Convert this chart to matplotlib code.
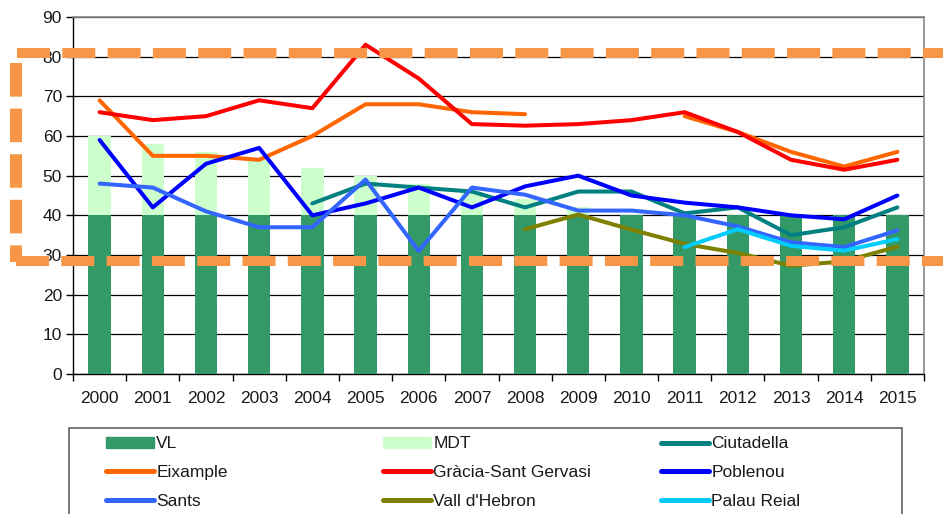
import numpy as np
import matplotlib
matplotlib.use("Agg")
import matplotlib.pyplot as plt
from matplotlib.lines import Line2D
from matplotlib.patches import Patch, Rectangle

plt.rcParams['font.family'] = ['Liberation Sans', 'DejaVu Sans']

years = [str(y) for y in range(2000, 2016)]
nan = np.nan
VL = [40] * 16
MDT = [60, 58, 56, 54, 52, 50, 48, 46, 44, 42, 40, 40, 40, 40, 40, 40]
ciutadella = [nan, nan, nan, nan, 43, 48, 47, 46, 42, 46, 46, 40.5, 42, 35, 37, 42]
eixample = [69, 55, 55, 54, 60, 68, 68, 66, 65.5, nan, nan, 65, 61, 56, 52.3, 56]
gracia = [66, 64, 65, 69, 67, 83, 74.5, 63, 62.6, 63, 64, 66, 61, 54, 51.5, 54]
poblenou = [59, 42, 53, 57, 40, 43, 47, 42, 47.3, 50, 45, 43.2, 42, 40, 39, 45]
sants = [48, 47, 41, 37, 37, 49, 31, 47, 45.2, 41.2, 41.2, 40, 37.2, 33.2, 32, 36.2]
vall = [nan, nan, nan, nan, nan, nan, nan, nan, 36.5, 40.2, 36.4, 32.8, 30.5, 27.3, 28.4, 32.1]
palau = [nan, nan, nan, nan, nan, nan, nan, nan, nan, nan, nan, 32, 36.5, 32.3, 31.1, 34]

W, H = 943, 514
fig = plt.figure(figsize=(W / 100, H / 100), dpi=100)
ax = fig.add_axes([73 / W, 1 - 374 / H, (924 - 73) / W, (374 - 17) / H])

x = np.arange(len(years))
bw = 0.42
ax.bar(x, MDT, width=bw, color='#CCFFCC', zorder=2)
ax.bar(x, VL, width=bw, color='#339966', zorder=3)

series = [
    ('Ciutadella', ciutadella, '#008080'),
    ('Eixample', eixample, '#FF6600'),
    ('Gràcia-Sant Gervasi', gracia, '#FF0000'),
    ('Poblenou', poblenou, '#0000FF'),
    ('Sants', sants, '#3366FF'),
    ("Vall d'Hebron", vall, '#808000'),
    ('Palau Reial', palau, '#00CCFF'),
]
for name, vals, c in series:
    ax.plot(x, vals, color=c, lw=2.9, zorder=4, solid_capstyle='round', solid_joinstyle='round')

ax.set_xlim(-0.5, len(years) - 0.5)
ax.set_ylim(0, 90)
ax.set_yticks(range(0, 91, 10))
ax.set_xticks(x)
ax.set_xticklabels(years)
ax.set_xticks(np.arange(-0.5, len(years), 1), minor=True)
ax.tick_params(axis='x', which='major', length=0, pad=12, labelsize=12.5, labelcolor='#1a1a1a')
ax.tick_params(axis='x', which='minor', length=5, direction='out', width=1)
ax.tick_params(axis='y', length=5, direction='out', width=1, labelsize=12.5, pad=3, labelcolor='#1a1a1a')
ax.yaxis.grid(True, color='black', lw=0.9, zorder=0)
ax.set_axisbelow(True)
for s in ['top', 'right']:
    ax.spines[s].set_color('#888888')
    ax.spines[s].set_linewidth(1.2)
for s in ['left', 'bottom']:
    ax.spines[s].set_color('black')
    ax.spines[s].set_linewidth(1)

# legend: three one-column legends inside a common frame
h = {n: Line2D([], [], color=c, lw=3.6, solid_capstyle='round') for n, _, c in series}
pv = Patch(color='#339966')
pm = Patch(color='#CCFFCC')
columns = [
    ([pv, h['Eixample'], h['Sants']], ['VL', 'Eixample', 'Sants'], 106),
    ([pm, h['Gràcia-Sant Gervasi'], h["Vall d'Hebron"]], ['MDT', 'Gràcia-Sant Gervasi', "Vall d'Hebron"], 383),
    ([h['Ciutadella'], h['Poblenou'], h['Palau Reial']], ['Ciutadella', 'Poblenou', 'Palau Reial'], 661),
]
fs = 12.5
for hs, ls, xl in columns:
    lg = fig.legend(hs, ls, ncol=1, loc='upper left',
                    bbox_to_anchor=(xl / W, 1 - 436.5 / H), frameon=False,
                    prop={'size': fs}, handlelength=2.75, handleheight=0.65,
                    handletextpad=0.15, labelspacing=0.78, borderpad=0, borderaxespad=0)
    for t in lg.get_texts():
        t.set_color('#1a1a1a')
fig.add_artist(Rectangle((69 / W, 1 - 540 / H), (902 - 69) / W, (540 - 427.5) / H,
                         transform=fig.transFigure, fill=False, edgecolor='#555555', lw=1.1))

# orange dashed annotation box
oc = '#F79646'
lw_pt = 10 * 72 / 100
def hline(y, x0, x1):
    l = Line2D([x0 / W, x1 / W], [1 - y / H, 1 - y / H], transform=fig.transFigure,
               color=oc, lw=lw_pt, solid_capstyle='butt', dash_capstyle='butt',
               linestyle=(0, (3.3, 1.23)), zorder=10)
    fig.add_artist(l)
hline(53, 17, 943)
hline(261, 16, 943)
vl = Line2D([16 / W, 16 / W], [1 - 63 / H, 1 - 262 / H], transform=fig.transFigure,
            color=oc, lw=12 * 72 / 100, dash_capstyle='butt', linestyle=(0, (2.8, 1.0)), zorder=10)
fig.add_artist(vl)

fig.savefig('out.png', dpi=100)
